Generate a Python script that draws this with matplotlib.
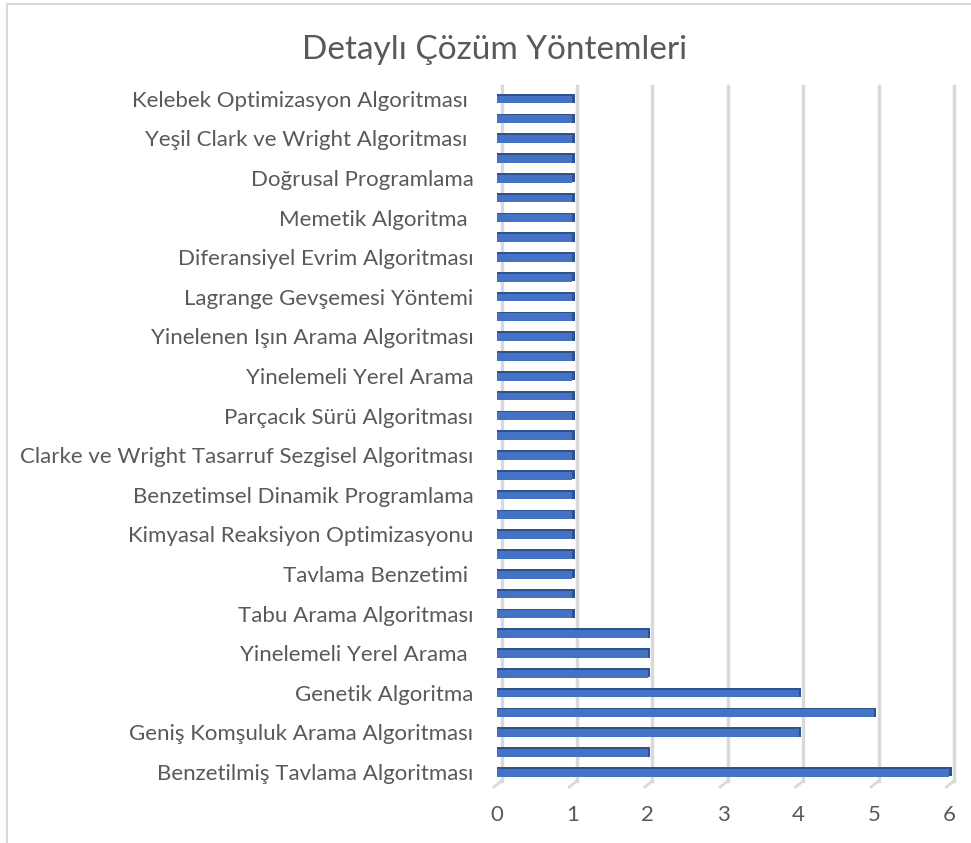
import matplotlib
matplotlib.use("Agg")
import matplotlib.pyplot as plt
from matplotlib.lines import Line2D
import matplotlib.transforms as mtransforms

title = "Detaylı Çözüm Yöntemleri"

# Bar values from bottom to top (35 bars)
values = [6, 2, 4, 5, 4, 2, 2, 2, 1,
          1, 1, 1, 1, 1, 1, 1, 1, 1, 1, 1, 1, 1, 1, 1, 1, 1, 1, 1, 1, 1, 1, 1, 1, 1, 1]

# Labels shown (every other bar, from bottom to top)
shown_labels = [
    "Benzetilmiş Tavlama Algoritması",
    "Geniş Komşuluk Arama Algoritması",
    "Genetik Algoritma",
    "Yinelemeli Yerel Arama ",
    "Tabu Arama Algoritması",
    "Tavlama Benzetimi ",
    "Kimyasal Reaksiyon Optimizasyonu",
    "Benzetimsel Dinamik Programlama",
    "Clarke ve Wright Tasarruf Sezgisel Algoritması",
    "Parçacık Sürü Algoritması",
    "Yinelemeli Yerel Arama",
    "Yinelenen Işın Arama Algoritması",
    "Lagrange Gevşemesi Yöntemi",
    "Diferansiyel Evrim Algoritması",
    "Memetik Algoritma ",
    "Doğrusal Programlama",
    "Yeşil Clark ve Wright Algoritması ",
    "Kelebek Optimizasyon Algoritması ",
]

x_ticks = [0, 1, 2, 3, 4, 5, 6]

plt.rcParams['font.family'] = ['Lato', 'DejaVu Sans']
text_color = "#595959"
bar_color = "#4472C4"
edge_color = "#2F528F"
grid_color = "#D9D9D9"

W, H = 971, 843
fig = plt.figure(figsize=(W / 100, H / 100), dpi=100)

x0_px, unit_px = 497, 75.4
xmax = 6.08
ax = fig.add_axes([x0_px / W, 1 - 781 / H, xmax * unit_px / W, (781 - 86) / H])

ypos = list(range(len(values)))
# dark top/side (3D depth) behind the face
ax.barh([y + 0.02 for y in ypos], [v + 0.03 for v in values], height=0.48,
        color=edge_color, zorder=3)
ax.barh([y - 0.03 for y in ypos], values, height=0.40, color=bar_color,
        linewidth=0, zorder=4)

ax.set_xlim(0, xmax)
ax.set_ylim(-0.45, 34.65)

shift = mtransforms.ScaledTranslation(4.5 / 100, 0, fig.dpi_scale_trans)
for t in x_ticks:
    ax.plot([t, t], [0, 1], color=grid_color, linewidth=2.5, zorder=1,
            clip_on=False, transform=ax.get_xaxis_transform() + shift)
    ax.plot([t, t - 0.1], [-0.45, -0.75], color=grid_color, linewidth=2,
            clip_on=False, zorder=1, transform=ax.transData + shift)

ax.set_xticks(x_ticks)
ax.set_xticklabels([str(t) for t in x_ticks])
ax.set_yticks(ypos[::2])
ax.set_yticklabels(shown_labels)
ax.tick_params(axis='both', length=0, colors=text_color, labelsize=16)
ax.tick_params(axis='x', pad=17)
ax.tick_params(axis='y', pad=17)
for s in ax.spines.values():
    s.set_visible(False)

fig.text(495 / W, 1 - 50 / H, title, ha='center', va='center',
         fontsize=24, color=text_color)

# chart border (cropped on right/bottom)
fig.add_artist(Line2D([7 / W, 7 / W], [0, 1 - 4 / H], color="#D9D9D9",
                      linewidth=1.5, transform=fig.transFigure))
fig.add_artist(Line2D([7 / W, 1], [1 - 4 / H, 1 - 4 / H], color="#D9D9D9",
                      linewidth=1.5, transform=fig.transFigure))

fig.savefig("out.png", dpi=100, facecolor="white")
